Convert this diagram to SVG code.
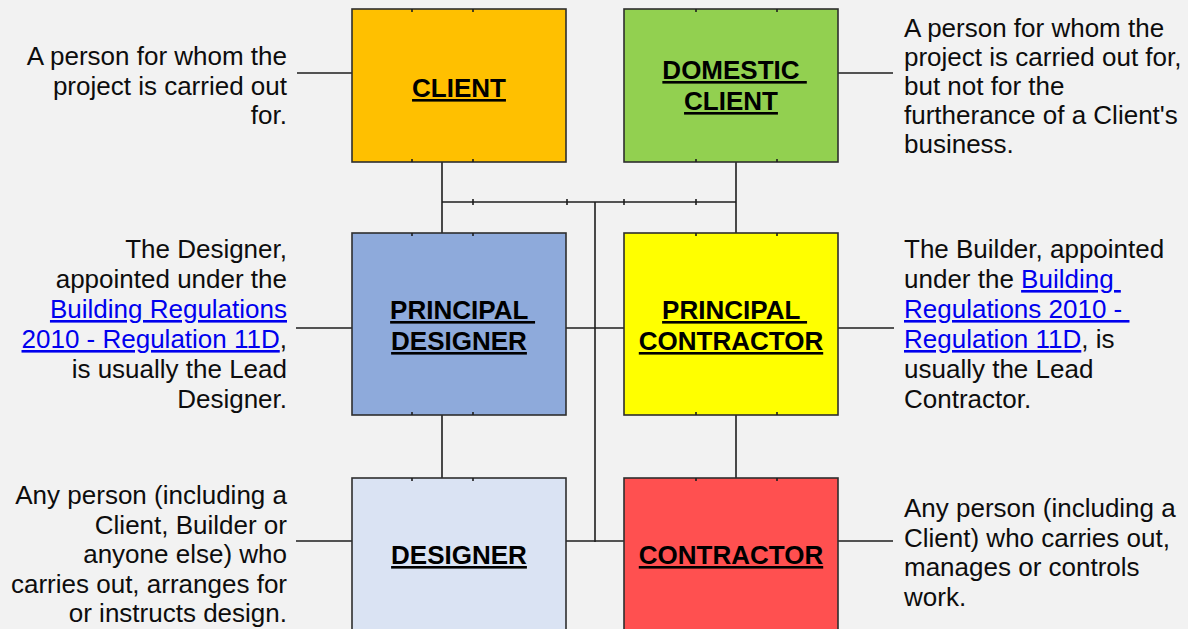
<svg xmlns="http://www.w3.org/2000/svg" width="1188" height="629" viewBox="0 0 1188 629">
<style>
.box{stroke:#2e2e2e;stroke-width:1.6}
.conn{stroke:#1f1f1f;stroke-width:1.6;fill:none}
.tick{stroke:#1f1f1f;stroke-width:1.6}
.lbl{font-family:"Liberation Sans",Arial,sans-serif;font-weight:bold;font-size:26px;fill:#000;text-anchor:middle;text-decoration:underline}
.desc{font-family:"Liberation Sans",Arial,sans-serif;font-size:26px;fill:#0d0d0d}
.l{text-anchor:end}
.link{fill:#0000ee;text-decoration:underline}
</style>
<rect width="1188" height="629" fill="#f2f2f2"/>
<g id="connectors">
<path class="conn" d="M442 162V233M736 162V233M442 202H736M595 202V542M566 328H624M566 541H624M442 415V478M736 415V478"/>
<path class="conn" d="M297 73H352M838 73H893M296 328H352M838 328H894M296 541H352M838 541H893"/>
<path class="tick" d="M473 199V205M567 199V205M624 199V205M696 199V205"/>
</g>
<g id="client">
<rect class="box" x="352" y="9" width="214" height="153" fill="#ffc000"/>
<path class="tick" d="M412 9V12M473 9V12M412 162V159M473 162V159"/>
<text class="lbl" x="459" y="97">CLIENT</text>
<text class="desc l" x="287"><tspan x="287" y="65">A person for whom the</tspan><tspan x="287" y="94.5">project is carried out</tspan><tspan x="287" y="124">for.</tspan></text>
</g>
<g id="domestic-client">
<rect class="box" x="624" y="9" width="214" height="153" fill="#92d050"/>
<path class="tick" d="M696 9V12M777 9V12M696 162V159M777 162V159"/>
<text class="lbl" xml:space="preserve"><tspan x="734.6" y="79">DOMESTIC </tspan><tspan x="731" y="110">CLIENT</tspan></text>
<text class="desc" x="904"><tspan x="904" y="36.5">A person for whom the</tspan><tspan x="904" y="65.5">project is carried out for,</tspan><tspan x="904" y="95">but not for the</tspan><tspan x="904" y="124">furtherance of a Client's</tspan><tspan x="904" y="153">business.</tspan></text>
</g>
<g id="principal-designer">
<rect class="box" x="352" y="233" width="214" height="182" fill="#8eaadb"/>
<path class="tick" d="M412 233V236M473 233V236M412 415V412M473 415V412"/>
<text class="lbl" xml:space="preserve"><tspan x="462.6" y="319">PRINCIPAL </tspan><tspan x="459" y="350">DESIGNER</tspan></text>
<text class="desc l"><tspan x="287" y="258">The Designer,</tspan><tspan x="287" y="288">appointed under the</tspan><tspan x="287" y="318" class="link">Building Regulations</tspan><tspan x="287" y="348"><tspan class="link">2010 - Regulation 11D</tspan>,</tspan><tspan x="287" y="378">is usually the Lead</tspan><tspan x="287" y="408">Designer.</tspan></text>
</g>
<g id="principal-contractor">
<rect class="box" x="624" y="233" width="214" height="182" fill="#ffff00"/>
<path class="tick" d="M696 233V236M777 233V236M696 415V412M777 415V412"/>
<text class="lbl" xml:space="preserve"><tspan x="734.6" y="319">PRINCIPAL </tspan><tspan x="731" y="350">CONTRACTOR</tspan></text>
<text class="desc" xml:space="preserve"><tspan x="904" y="258">The Builder, appointed</tspan><tspan x="904" y="288">under the <tspan class="link">Building </tspan></tspan><tspan x="904" y="318" class="link">Regulations 2010 - </tspan><tspan x="904" y="348"><tspan class="link">Regulation 11D</tspan>, is</tspan><tspan x="904" y="378">usually the Lead</tspan><tspan x="904" y="408">Contractor.</tspan></text>
</g>
<g id="designer">
<rect class="box" x="352" y="478" width="214" height="160" fill="#dae3f3"/>
<path class="tick" d="M412 478V481M473 478V481"/>
<text class="lbl" x="459" y="564">DESIGNER</text>
<text class="desc l"><tspan x="287" y="504">Any person (including a</tspan><tspan x="287" y="533.5">Client, Builder or</tspan><tspan x="287" y="563">anyone else) who</tspan><tspan x="287" y="592.5">carries out, arranges for</tspan><tspan x="287" y="622">or instructs design.</tspan></text>
</g>
<g id="contractor">
<rect class="box" x="624" y="478" width="214" height="160" fill="#ff5050"/>
<path class="tick" d="M696 478V481M777 478V481"/>
<text class="lbl" x="731" y="564">CONTRACTOR</text>
<text class="desc"><tspan x="904" y="517">Any person (including a</tspan><tspan x="904" y="546.5">Client) who carries out,</tspan><tspan x="904" y="576">manages or controls</tspan><tspan x="904" y="605.5">work.</tspan></text>
</g>
</svg>
